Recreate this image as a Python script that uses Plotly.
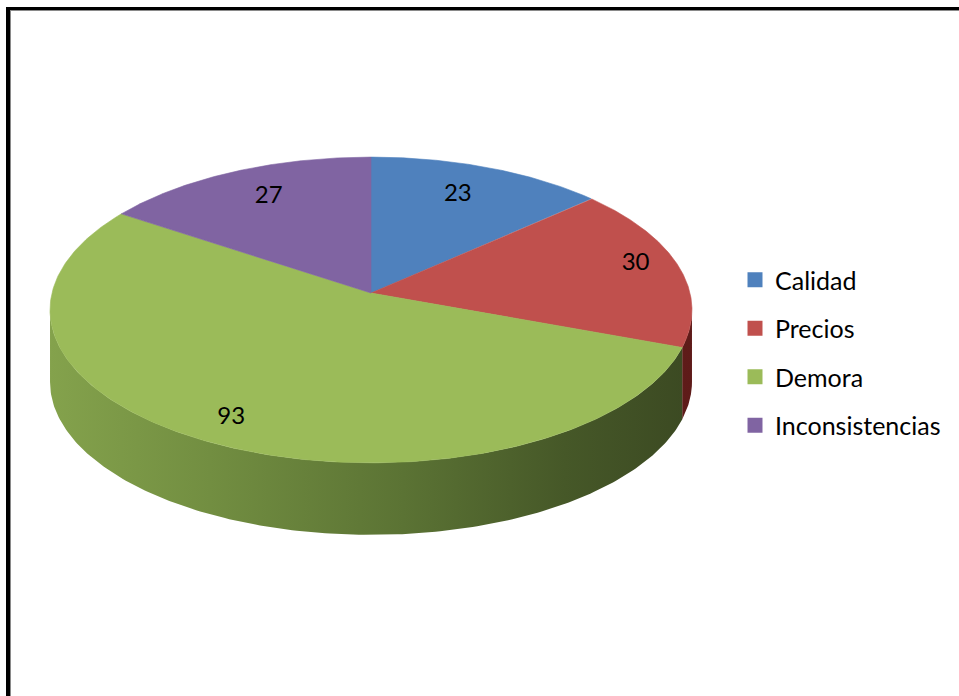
import numpy as np
import plotly.graph_objects as go

# ---- data -------------------------------------------------------------
categories = ["Calidad", "Precios", "Demora", "Inconsistencias"]
values = [23, 30, 93, 27]

# ---- style ------------------------------------------------------------
colors = ["#4F81BD", "#C0504D", "#9BBB59", "#8064A2"]
wall_scales = [
    [[0, "#3F5E8A"], [1, "#2C4266"]],
    [[0, "#8E2F2C"], [1, "#5E1B19"]],
    [[0, "#84A24C"], [0.25, "#728E41"], [0.55, "#5B7334"], [0.8, "#465828"], [1, "#3B4922"]],
    [[0, "#5E4A7A"], [1, "#45365A"]],
]
label_radius = [0.72, 0.86, 0.88, 0.73]
FONT = "Lato"
LABEL_SIZE = 24
LEGEND_SIZE = 25

W, H = 959, 696
CX, CY = 371, 293          # centre of the top face
AX, BY = 319, 151          # horizontal / vertical radius of the top face
K = 0.111                  # perspective foreshortening (back smaller than front)
DEPTH = 72                 # thickness of the disc
LABEL_LIFT = 5


def project(theta_deg, r=1.0):
    """Point on the tilted disc at angle theta (clockwise from 12 o'clock)."""
    t = np.radians(theta_deg)
    X = r * np.sin(t)
    Y = r * np.cos(t)
    d = 1 + K * Y
    return CX + AX * X / d, CY - BY * Y / d


total = sum(values)
bounds = np.concatenate([[0], np.cumsum(values) / total * 360.0])

# the side wall is visible between the two silhouette angles
sil = np.degrees(np.arccos(-K))
vis_lo, vis_hi = sil, 360 - sil

fig = go.Figure()

# side walls
for i, (a0, a1) in enumerate(zip(bounds[:-1], bounds[1:])):
    lo, hi = max(a0, vis_lo), min(a1, vis_hi)
    if hi <= lo:
        continue
    th = np.linspace(lo, hi, 200)
    tx, ty = project(th)
    xs = np.concatenate([tx, tx[::-1], tx[:1]])
    ys = np.concatenate([ty, ty[::-1] + DEPTH, ty[:1]])
    fig.add_trace(go.Scatter(
        x=xs, y=ys, mode="lines", fill="toself",
        fillgradient=dict(type="horizontal", colorscale=wall_scales[i],
                          start=CX - AX * 1.01, stop=CX + AX * 1.01),
        line=dict(width=0), hoverinfo="skip", showlegend=False))

# top face slices
for i, (a0, a1) in enumerate(zip(bounds[:-1], bounds[1:])):
    th = np.linspace(a0, a1, 300)
    tx, ty = project(th)
    xs = np.concatenate([[CX], tx, [CX]])
    ys = np.concatenate([[CY], ty, [CY]])
    fig.add_trace(go.Scatter(
        x=xs, y=ys, mode="lines", fill="toself", fillcolor=colors[i],
        line=dict(color=colors[i], width=0.6), hoverinfo="skip", showlegend=False))

# value labels
mids = (bounds[:-1] + bounds[1:]) / 2
for i, v in enumerate(values):
    lx, ly = project(mids[i], label_radius[i])
    fig.add_trace(go.Scatter(
        x=[lx], y=[ly - LABEL_LIFT], mode="text", text=[str(v)],
        textposition="middle center",
        textfont=dict(family=FONT, size=LABEL_SIZE, color="black"),
        hoverinfo="skip", showlegend=False))

# legend entries
for cat, c in zip(categories, colors):
    fig.add_trace(go.Scatter(
        x=[-500], y=[-500], mode="markers", name=cat, legendgroup=cat,
        marker=dict(symbol="square", size=15, color=c, line=dict(width=0)),
        showlegend=True))

# chart frame
fig.add_shape(type="line", x0=8, x1=8, y0=7, y1=H + 20,
              line=dict(color="black", width=4))
fig.add_shape(type="line", x0=6, x1=W + 20, y0=8.5, y1=8.5,
              line=dict(color="black", width=3))
fig.add_shape(type="line", x0=10.5, x1=10.5, y0=10, y1=H + 20,
              line=dict(color="#8A8A8A", width=1))
fig.add_shape(type="line", x0=10, x1=W + 20, y0=10.5, y1=10.5,
              line=dict(color="#8A8A8A", width=1))

fig.update_layout(
    width=W, height=H, autosize=False,
    margin=dict(l=0, r=0, t=0, b=0),
    paper_bgcolor="white", plot_bgcolor="white",
    xaxis=dict(range=[0, W], visible=False, fixedrange=True),
    yaxis=dict(range=[H, 0], visible=False, fixedrange=True),
    showlegend=True,
    legend=dict(
        x=735 / W, y=1 - 257 / H, xanchor="left", yanchor="top",
        font=dict(family=FONT, size=LEGEND_SIZE, color="black"),
        tracegroupgap=13, traceorder="grouped",
        bgcolor="rgba(0,0,0,0)", borderwidth=0),
)

fig.write_html("out.html")
